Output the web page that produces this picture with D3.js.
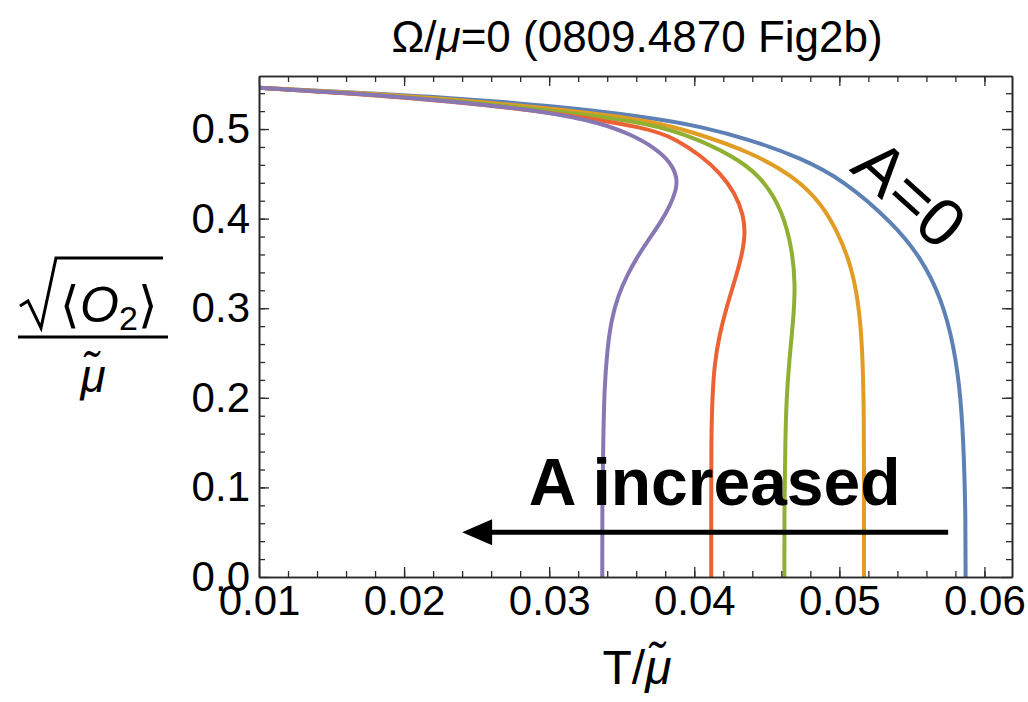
<!DOCTYPE html>
<html>
<head>
<meta charset="utf-8">
<script src="https://cdn.jsdelivr.net/npm/d3@7"></script>
<style>
  body { margin: 0; background: #fff; }
  svg { font-family: "Liberation Sans", Arial, sans-serif; }
</style>
</head>
<body>
<div id="chart"></div>
<script>
const curveA0 = [[0.0100,0.546],[0.0163,0.541],[0.0232,0.535],[0.0301,0.526],[0.0370,0.513],
  [0.0404,0.503],[0.0439,0.488],[0.0473,0.468],[0.0503,0.443],[0.0537,0.395],[0.0556,0.357],
  [0.0570,0.3125],[0.0579,0.259],[0.0584,0.1975],[0.0586,0.131],[0.0587,0.064],[0.0587,0.0]];
const curveA1 = [[0.0100,0.546],[0.0163,0.541],[0.0232,0.5335],[0.0301,0.523],[0.0370,0.510],
  [0.0404,0.494],[0.0439,0.474],[0.0468,0.448],[0.0487,0.4185],[0.0499,0.385],[0.0508,0.348],
  [0.0513,0.309],[0.0516,0.257],[0.0517,0.175],[0.0517,0.086],[0.0517,0.0]];
const curveA2 = [[0.0100,0.546],[0.0163,0.540],[0.0232,0.532],[0.0301,0.521],[0.0370,0.507],
  [0.0404,0.488],[0.0432,0.465],[0.0449,0.441],[0.0461,0.407],[0.04676,0.365],[0.04697,0.3259],
  [0.04683,0.2868],[0.04655,0.2422],[0.04635,0.1975],[0.04628,0.1529],[0.04621,0.0859],[0.04621,0.0]];
const curveA3 = [[0.0100,0.546],[0.0163,0.540],[0.0232,0.531],[0.0301,0.519],[0.0370,0.501],
  [0.0388,0.488],[0.0404,0.471],[0.0418,0.451],[0.0428,0.4286],[0.0434,0.404],[0.04352,0.3817],
  [0.04324,0.3560],[0.04276,0.3292],[0.04221,0.3002],[0.04173,0.2701],[0.04138,0.2366],
  [0.04124,0.1975],[0.04117,0.1529],[0.04117,0.0859],[0.04117,0.0]];
const curveA4 = [[0.0100,0.546],[0.01628,0.5402],[0.02317,0.5313],[0.03007,0.5190],[0.03352,0.5067],
  [0.03559,0.4944],[0.03731,0.4788],[0.03835,0.4632],[0.03883,0.4464],[0.03876,0.4319],
  [0.03835,0.4152],[0.03766,0.3951],[0.03683,0.3761],[0.03607,0.3572],[0.03538,0.3371],
  [0.03476,0.3147],[0.03428,0.2868],[0.03400,0.2534],[0.03380,0.2087],[0.03373,0.1529],
  [0.03366,0.0859],[0.03366,0.0]];

const curves = [curveA0, curveA1, curveA2, curveA3, curveA4];
const curveColors = ["#5E81B5", "#E19C24", "#8FB032", "#EB6235", "#8778B3"];

const xTicks = [0.01, 0.02, 0.03, 0.04, 0.05, 0.06];
const yTicks = [0.0, 0.1, 0.2, 0.3, 0.4, 0.5];
const xMinor = d3.range(12, 62, 2).map(d => d / 1000);
const yMinor = d3.range(2, 56, 2).map(d => d / 100);

// Pfeil "A increased" und Beschriftungen in Datenkoordinaten
const arrowFrom = [0.0575, 0.050];
const arrowTo = [0.0240, 0.050];
const labelA0 = [0.0549, 0.4286];
const labelIncreased = [0.0286, 0.080];

const width = 1028;
const height = 702;
const margin = {top: 76, right: 16, bottom: 125, left: 259};
const innerWidth = width - margin.left - margin.right;
const innerHeight = height - margin.top - margin.bottom;

const svg = d3.select("#chart")
  .append("svg")
  .attr("width", width)
  .attr("height", height);

const innerChart = svg.append("g")
  .attr("transform", `translate(${margin.left}, ${margin.top})`);

const xScale = d3.scaleLinear().domain([0.01, 0.0619]).range([0, innerWidth]);
const yScale = d3.scaleLinear().domain([0, 0.5592]).range([innerHeight, 0]);

const frameColor = "#2b2b2b";

// Clip fuer die Kurven
svg.append("clipPath").attr("id", "plotclip")
  .append("rect").attr("width", innerWidth).attr("height", innerHeight);

const lineGenerator = d3.line()
  .x(d => xScale(d[0]))
  .y(d => yScale(d[1]))
  .curve(d3.curveBasis);

innerChart.append("g")
  .attr("clip-path", "url(#plotclip)")
  .selectAll("path")
  .data(curves)
  .join("path")
  .attr("d", d => lineGenerator(d))
  .attr("fill", "none")
  .attr("stroke", (d, i) => curveColors[i])
  .attr("stroke-width", 4)
  .attr("stroke-linejoin", "round");

// Achsen (Ticks nach innen, Rahmen auf allen Seiten)
const styleAxis = g => {
  g.selectAll("path.domain").attr("stroke", frameColor).attr("stroke-width", 1.6);
  g.selectAll(".tick line").attr("stroke", frameColor).attr("stroke-width", 1.3);
  g.selectAll(".tick text")
    .attr("fill", "#000")
    .attr("font-size", 42)
    .attr("font-family", "Liberation Sans, Arial, sans-serif");
};

// unten
innerChart.append("g")
  .attr("transform", `translate(0, ${innerHeight})`)
  .call(d3.axisBottom(xScale).tickValues(xMinor).tickSizeInner(-6).tickSizeOuter(0).tickFormat(""))
  .call(styleAxis);
innerChart.append("g")
  .attr("transform", `translate(0, ${innerHeight})`)
  .call(d3.axisBottom(xScale).tickValues(xTicks).tickSizeInner(-10).tickSizeOuter(0)
    .tickPadding(8).tickFormat(d3.format(".2f")))
  .call(styleAxis);
// oben
innerChart.append("g")
  .call(d3.axisTop(xScale).tickValues(xMinor).tickSizeInner(-6).tickSizeOuter(0).tickFormat(""))
  .call(styleAxis);
innerChart.append("g")
  .call(d3.axisTop(xScale).tickValues(xTicks).tickSizeInner(-10).tickSizeOuter(0).tickFormat(""))
  .call(styleAxis);
// links
innerChart.append("g")
  .call(d3.axisLeft(yScale).tickValues(yMinor).tickSizeInner(-6).tickSizeOuter(0).tickFormat(""))
  .call(styleAxis);
innerChart.append("g")
  .call(d3.axisLeft(yScale).tickValues(yTicks).tickSizeInner(-10).tickSizeOuter(0)
    .tickPadding(9).tickFormat(d3.format(".1f")))
  .call(styleAxis);
// rechts
innerChart.append("g")
  .attr("transform", `translate(${innerWidth}, 0)`)
  .call(d3.axisRight(yScale).tickValues(yMinor).tickSizeInner(-6).tickSizeOuter(0).tickFormat(""))
  .call(styleAxis);
innerChart.append("g")
  .attr("transform", `translate(${innerWidth}, 0)`)
  .call(d3.axisRight(yScale).tickValues(yTicks).tickSizeInner(-10).tickSizeOuter(0).tickFormat(""))
  .call(styleAxis);

// Titel
svg.append("text")
  .attr("x", 637)
  .attr("y", 52)
  .attr("text-anchor", "middle")
  .attr("font-size", 44)
  .html('Ω/<tspan font-style="italic">μ</tspan>=0 (0809.4870 Fig2b)');

// x-Achsenbeschriftung
svg.append("text")
  .attr("x", 637)
  .attr("y", 684)
  .attr("text-anchor", "middle")
  .attr("font-size", 48)
  .html('T/<tspan font-style="italic">μ\u0303</tspan>');

// y-Achsenbeschriftung als Bruch
const yLab = svg.append("g");
yLab.append("path")
  .attr("d", "M20,306 L28,301 L41,328 L56,258 L163,258")
  .attr("fill", "none")
  .attr("stroke", "#000")
  .attr("stroke-width", 3)
  .attr("stroke-linejoin", "miter");
yLab.append("text")
  .attr("x", 60)
  .attr("y", 322)
  .attr("font-size", 50)
  .html('⟨<tspan font-style="italic">O</tspan><tspan font-size="34" dy="8">2</tspan><tspan dy="-8">⟩</tspan>');
yLab.append("line")
  .attr("x1", 18).attr("x2", 168)
  .attr("y1", 337).attr("y2", 337)
  .attr("stroke", "#000")
  .attr("stroke-width", 3);
yLab.append("text")
  .attr("x", 93)
  .attr("y", 392)
  .attr("text-anchor", "middle")
  .attr("font-size", 46)
  .attr("font-style", "italic")
  .text("μ\u0303");

// Annotationen
innerChart.append("text")
  .attr("transform", `translate(${xScale(labelA0[0])}, ${yScale(labelA0[1])}) rotate(42)`)
  .attr("text-anchor", "middle")
  .attr("dy", "0.36em")
  .attr("font-size", 68)
  .text("A=0");

innerChart.append("text")
  .attr("x", xScale(labelIncreased[0]))
  .attr("y", yScale(labelIncreased[1]))
  .attr("font-size", 66)
  .attr("font-weight", "bold")
  .text("A increased");

const ax0 = xScale(arrowFrom[0]), ax1 = xScale(arrowTo[0]), ay = yScale(arrowFrom[1]);
innerChart.append("line")
  .attr("x1", ax0).attr("x2", ax1 + 26)
  .attr("y1", ay).attr("y2", ay)
  .attr("stroke", "#000")
  .attr("stroke-width", 5);
innerChart.append("path")
  .attr("d", `M${ax1},${ay} L${ax1 + 30},${ay - 13} L${ax1 + 30},${ay + 13} Z`)
  .attr("fill", "#000");
</script>
</body>
</html>
